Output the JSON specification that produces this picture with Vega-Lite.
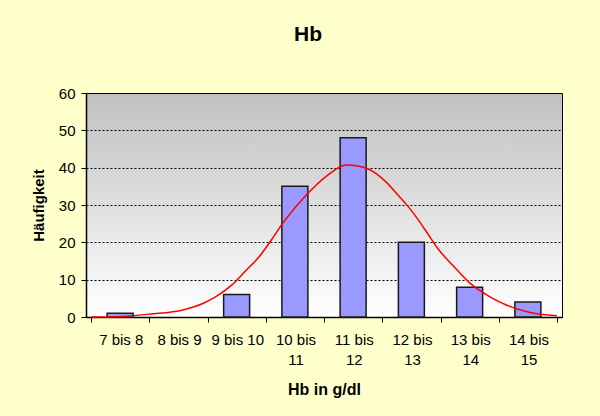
{
  "$schema": "https://vega.github.io/schema/vega-lite/v6.json",
  "width": 476,
  "height": 224,
  "autosize": "none",
  "padding": {"left": 86, "top": 93, "right": 38, "bottom": 99},
  "background": "#FFFFCC",
  "view": {
    "fill": {"gradient": "linear", "x1": 0, "y1": 0, "x2": 0, "y2": 1, "stops": [{"offset": 0, "color": "#C0C0C0"}, {"offset": 1, "color": "#FFFFFF"}]},
    "stroke": "#000000",
    "strokeWidth": 1
  },
  "title": {"text": "Hb", "font": "Liberation Sans", "fontSize": 21, "fontWeight": "bold", "color": "#000000", "anchor": "middle", "dx": -16, "offset": 24, "baseline": "alphabetic"},
  "config": {
    "font": "Liberation Sans",
    "axis": {"labelFont": "Liberation Sans", "titleFont": "Liberation Sans", "labelColor": "#000000", "titleColor": "#000000", "domainColor": "#000000", "tickColor": "#000000", "labelFontSize": 15, "titleFontWeight": "bold"}
  },
  "layer": [
    {
      "data": {"values": [
        {"klasse": "7 bis 8", "mitte": 7.5, "n": 1},
        {"klasse": "8 bis 9", "mitte": 8.5, "n": 0},
        {"klasse": "9 bis 10", "mitte": 9.5, "n": 6},
        {"klasse": "10 bis 11", "mitte": 10.5, "n": 35},
        {"klasse": "11 bis 12", "mitte": 11.5, "n": 48},
        {"klasse": "12 bis 13", "mitte": 12.5, "n": 20},
        {"klasse": "13 bis 14", "mitte": 13.5, "n": 8},
        {"klasse": "14 bis 15", "mitte": 14.5, "n": 4}
      ]},
      "transform": [{"filter": "datum.n > 0"}],
      "mark": {"type": "bar", "width": 26, "fill": "#9999FF", "stroke": "#1A1A1A", "strokeWidth": 1.5},
      "encoding": {
        "x": {
          "field": "mitte", "type": "quantitative",
          "scale": {"domain": [7, 15], "nice": false, "zero": false},
          "axis": {
            "values": [7, 8, 9, 10, 11, 12, 13, 14, 15],
            "labelExpr": "datum.value == 7 ? '7 bis 8' : datum.value == 8 ? '8 bis 9' : datum.value == 9 ? '9 bis 10' : datum.value == 10 ? ['10 bis', '11'] : datum.value == 11 ? ['11 bis', '12'] : datum.value == 12 ? ['12 bis', '13'] : datum.value == 13 ? ['13 bis', '14'] : datum.value == 14 ? ['14 bis', '15'] : ''",
            "labelOffset": 29.75,
            "labelOverlap": false,
            "labelFlush": false,
            "labelBaseline": "top",
            "labelLineHeight": 20,
            "labelPadding": 10,
            "tickSize": 5,
            "grid": false,
            "domainWidth": 1.5,
            "title": "Hb in g/dl",
            "titleFontSize": 16,
            "titlePadding": 14
          }
        },
        "y": {
          "field": "n", "type": "quantitative",
          "scale": {"domain": [0, 60], "nice": false},
          "axis": {
            "values": [0, 10, 20, 30, 40, 50, 60],
            "labelOverlap": false,
            "grid": true,
            "gridColor": "#000000",
            "gridDash": [2, 2],
            "gridWidth": 1,
            "tickSize": 5,
            "labelPadding": 6,
            "domainWidth": 1.5,
            "title": "Häufigkeit",
            "titleFontSize": 15,
            "titlePadding": 12
          }
        }
      }
    },
    {
      "data": {"values": [
        {"g": 7.0, "h": 0},
        {"g": 7.45, "h": 0.1},
        {"g": 8.02, "h": 0.8},
        {"g": 8.58, "h": 1.9},
        {"g": 8.92, "h": 3.6},
        {"g": 9.13, "h": 5.3},
        {"g": 9.42, "h": 8.6},
        {"g": 9.65, "h": 12.3},
        {"g": 9.89, "h": 16.2},
        {"g": 10.09, "h": 20.5},
        {"g": 10.31, "h": 25.5},
        {"g": 10.68, "h": 32.4},
        {"g": 11.05, "h": 37.8},
        {"g": 11.38, "h": 40.7},
        {"g": 11.6, "h": 40.4},
        {"g": 11.89, "h": 38.5},
        {"g": 12.05, "h": 36.4},
        {"g": 12.28, "h": 32.5},
        {"g": 12.45, "h": 29.5},
        {"g": 12.61, "h": 26.2},
        {"g": 12.73, "h": 23.5},
        {"g": 12.95, "h": 18.4},
        {"g": 13.23, "h": 13.5},
        {"g": 13.51, "h": 9.0},
        {"g": 13.85, "h": 5.4},
        {"g": 14.13, "h": 3.2},
        {"g": 14.52, "h": 1.3},
        {"g": 15.0, "h": 0.35}
      ]},
      "mark": {"type": "line", "color": "#FF0000", "strokeWidth": 1.5, "interpolate": "monotone"},
      "encoding": {
        "x": {
          "field": "g", "type": "quantitative",
          "axis": {
            "values": [7, 8, 9, 10, 11, 12, 13, 14, 15],
            "labelExpr": "datum.value == 7 ? '7 bis 8' : datum.value == 8 ? '8 bis 9' : datum.value == 9 ? '9 bis 10' : datum.value == 10 ? ['10 bis', '11'] : datum.value == 11 ? ['11 bis', '12'] : datum.value == 12 ? ['12 bis', '13'] : datum.value == 13 ? ['13 bis', '14'] : datum.value == 14 ? ['14 bis', '15'] : ''",
            "labelOffset": 29.75,
            "labelOverlap": false,
            "labelFlush": false,
            "labelBaseline": "top",
            "labelLineHeight": 20,
            "labelPadding": 10,
            "tickSize": 5,
            "grid": false,
            "domainWidth": 1.5,
            "title": "Hb in g/dl",
            "titleFontSize": 16,
            "titlePadding": 14
          }
        },
        "y": {
          "field": "h", "type": "quantitative",
          "axis": {
            "values": [0, 10, 20, 30, 40, 50, 60],
            "labelOverlap": false,
            "grid": true,
            "gridColor": "#000000",
            "gridDash": [2, 2],
            "gridWidth": 1,
            "tickSize": 5,
            "labelPadding": 6,
            "domainWidth": 1.5,
            "title": "Häufigkeit",
            "titleFontSize": 15,
            "titlePadding": 12
          }
        }
      }
    }
  ]
}
